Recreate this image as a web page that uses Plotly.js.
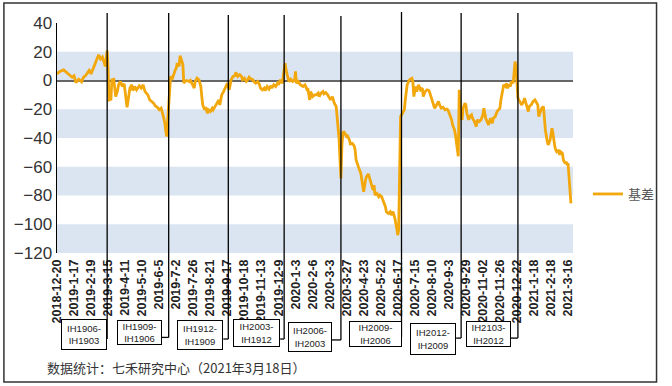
<!DOCTYPE html>
<html><head><meta charset="utf-8">
<script src="https://cdn.plot.ly/plotly-3.0.1.min.js"></script>
<style>html,body{margin:0;padding:0;background:#fff}#chart{width:672px;height:386px}</style>
</head><body><div id="chart"></div>
<script>
// trading-day index since 2018-12-20
const tradingDay = [0,3,7,10,13,16,18,20,23,26,28,30,32,34,36,38,40,42,44,46,48,51,52,53,54,55,57,58,60,61,62,64,65,67,69,71,72,74,75,77,79,80,82,84,87,89,91,93,96,98,100,102,104,106,108,110,112,114,115,116,117,118,119,120,122,123,125,126,127,129,130,132,133,134,135,137,140,141,143,145,146,148,150,152,153,154,156,157,159,160,162,164,165,167,169,171,172,174,176,178,180,182,184,186,188,189,191,193,195,196,198,200,201,203,205,207,208,210,212,214,215,217,219,220,222,224,226,227,229,231,233,234,236,238,241,242,244,245,247,249,251,252,253,255,257,259,260,262,264,265,267,268,270,272,274,276,277,279,281,282,284,286,288,289,291,293,295,296,297,298,299,300,301,302,303,305,306,307,309,310,312,314,315,316,318,319,321,322,323,324,326,327,329,331,332,334,335,336,338,340,341,343,345,347,348,350,352,353,355,357,359,360,361,362,363,365,367,368,369,370,372,373,375,376,377,379,380,382,384,386,387,389,391,393,394,396,398,399,401,403,405,406,408,410,412,413,415,417,418,420,421,422,423,424,425,426,428,429,431,432,433,435,436,438,439,441,443,444,446,448,450,451,453,455,456,458,460,461,463,465,467,468,469,471,472,474,475,476,478,479,480,482,483,484,485,486,487,488,489,491,493,494,496,498,499,501,503,505,506,508,509,511,512,514,515,516,518,519,521,522,523,524,525,526,527,528,530,531,532,534,535,537,538,539,540,541,542,543];
const basis = [4.6,6.3,7.4,5.6,3.9,2.3,3.3,-1.4,0.9,-0.9,2.3,3.3,5.1,7.0,4.6,7.9,10.9,15.6,17.9,14.9,16.3,9.8,15.6,20.9,7.4,-13.5,-13.0,0.5,0.9,-4.2,-11.2,-7.0,-3.0,-0.7,-4.2,-2.3,-7.7,-18.6,-14.6,-5.3,-3.0,-7.0,-4.2,-6.5,-3.7,-5.3,-3.0,-7.7,-10.0,-13.5,-14.6,-15.8,-17.7,-18.6,-20.4,-19.3,-23.9,-29.7,-35.5,-39.0,-27.4,-18.1,-4.2,2.8,1.6,4.0,7.4,8.6,12.1,9.8,17.2,13.2,10.9,-1.9,-0.7,0,-0.7,0,-3.0,-5.3,-0.7,1.6,0.5,-4.2,-11.2,-17.0,-20.4,-18.6,-22.8,-20.4,-21.6,-19.3,-20.4,-18.1,-15.8,-13.5,-17.0,-10.0,-7.7,-4.2,-1.9,-6.5,0.5,2.8,3.3,5.6,2.8,4.0,2.8,0.5,1.6,-0.7,0,2.3,0.9,0.5,-0.7,-1.9,-0.7,-3.0,-5.3,-6.5,-5.3,-7.0,-4.2,-6.0,-3.7,-5.3,-3.0,-4.2,-1.9,-3.0,0.5,-1.9,12.1,7.4,0.5,-0.7,0.9,-0.7,0,6.3,-1.9,-0.7,-3.0,-3.7,-4.2,-3.0,-6.0,-5.3,-13.5,-7.7,-11.2,-10.0,-10.0,-8.8,-11.2,-8.8,-7.7,-9.3,-8.4,-10.0,-12.3,-13.5,-11.2,-15.8,-18.1,-25.1,-34.4,-40.2,-55.3,-68.1,-46.0,-36.7,-35.5,-37.9,-39.0,-38.6,-41.3,-44.1,-43.7,-45.5,-48.3,-55.3,-59.9,-61.1,-64.6,-69.2,-75.0,-77.4,-69.2,-66.9,-65.0,-69.2,-71.5,-76.2,-72.7,-79.7,-78.5,-80.8,-79.7,-80.8,-84.3,-87.8,-91.3,-92.5,-91.3,-93.6,-91.3,-95.9,-102.9,-107.6,-104.1,-69.2,-25.1,-22.8,-20.4,-13.5,-6.5,-3.0,0,0.9,1.6,-0.7,-11.2,-4.2,-7.7,-3.0,-6.5,-5.3,-11.2,-7.7,-6.5,-7.0,-8.8,-13.5,-17.0,-19.3,-17.0,-14.6,-18.1,-19.3,-18.6,-20.4,-19.9,-20.4,-23.9,-27.4,-30.9,-34.4,-37.9,-43.4,-51.5,-52.7,-6.5,-22.8,-27.4,-19.3,-15.8,-17.0,-22.8,-27.4,-25.1,-23.9,-26.3,-28.6,-32.1,-27.4,-28.6,-27.4,-23.9,-19.3,-26.3,-29.7,-30.9,-26.3,-29.7,-26.3,-25.1,-21.6,-20.4,-19.3,-13.5,-4.2,-3.0,-4.2,-1.9,-5.3,-3.0,-4.2,-0.7,-1.9,5.1,13.2,9.8,-4.2,-12.3,-13.5,-14.6,-17.0,-14.6,-12.3,-17.0,-21.6,-18.1,-17.0,-14.6,-13.5,-14.6,-17.0,-25.1,-20.4,-19.3,-18.1,-25.1,-34.4,-42.5,-44.8,-41.3,-36.7,-33.2,-36.7,-43.7,-46.0,-48.3,-49.5,-48.3,-51.8,-49.5,-50.6,-55.3,-57.6,-56.4,-58.8,-57.6,-64.6,-76.2,-85.5];
const tickLabels = ['2018-12-20','2019-1-17','2019-2-19','2019-3-15','2019-4-11','2019-5-10','2019-6-5','2019-7-2','2019-7-26','2019-8-21','2019-9-17','2019-10-18','2019-11-13','2019-12-9','2020-1-3','2020-2-6','2020-3-3','2020-3-27','2020-4-23','2020-5-22','2020-6-17','2020-7-15','2020-8-10','2020-9-3','2020-9-29','2020-11-02','2020-11-26','2020-12-22','2021-1-18','2021-2-18','2021-3-16'];
const rollDays = [53,118,181,240,300,364,427,487];
const rollLabels = ['IH1906-<br>IH1903','IH1909-<br>IH1906','IH1912-<br>IH1909','IH2003-<br>IH1912','IH2006-<br>IH2003','IH2009-<br>IH2006','IH2012-<br>IH2009','IH2103-<br>IH2012'];
const yTicks = [40,20,0,-20,-40,-60,-80,-100,-120];

const TICK_STEP = 18;
const tickVals = tickLabels.map((_, i) => i * TICK_STEP);

// layout geometry of the label boxes (pixels / paper units)
const boxGeom = [
  {gap:0, yc:-0.354, w:46, h:31, yl:-0.374, top:1.043},
  {gap:7, yc:-0.346, w:45, h:25, yl:-0.367, top:1.043},
  {gap:5, yc:-0.357, w:46, h:30, yl:-0.374, top:1.035},
  {gap:4, yc:-0.348, w:47, h:28, yl:-0.374, top:1.035},
  {gap:9, yc:-0.365, w:44, h:30, yl:-0.378, top:1.030},
  {gap:0, yc:-0.352, w:53, h:26, yl:-0.365, top:1.048},
  {gap:5, yc:-0.374, w:46, h:32, yl:-0.370, top:1.043},
  {gap:7, yc:-0.352, w:45, h:26, yl:-0.370, top:1.043}
];

const shapes = [];
const bandColor = '#DBE5F1';
[[0,20],[-40,-20],[-80,-60],[-120,-100]].forEach(b => shapes.push({
  type:'rect', xref:'paper', x0:0, x1:1, yref:'y', y0:b[0], y1:b[1],
  fillcolor:bandColor, line:{width:0}, layer:'below'
}));
rollDays.forEach((d, i) => {
  const g = boxGeom[i];
  shapes.push({type:'line', xref:'x', x0:d, x1:d, yref:'paper', y0:g.yl, y1:g.top,
    line:{color:'#000', width:1.3}, layer:'above'});
  if (g.gap > 0) shapes.push({type:'line', xref:'x', xsizemode:'pixel', xanchor:d, x0:-g.gap, x1:0,
    yref:'paper', y0:g.yl, y1:g.yl, line:{color:'#000', width:1.3}, layer:'above'});
});
// outer frame
shapes.push({type:'rect', xref:'paper', yref:'paper', x0:-0.1029, x1:1.1619, y0:-0.5609, y1:1.087,
  line:{color:'#333', width:1.5}, fillcolor:'rgba(0,0,0,0)', layer:'above'});

const annotations = rollDays.map((d, i) => {
  const g = boxGeom[i];
  return {xref:'x', x:d, xanchor:'right', xshift:-g.gap, yref:'paper', y:g.yc, yanchor:'middle',
    text:rollLabels[i], showarrow:false, width:g.w-2, height:g.h-2, borderpad:0,
    bordercolor:'#000', borderwidth:1, bgcolor:'#fff', align:'center',
    font:{family:'Liberation Sans, Arial, sans-serif', size:9.5, color:'#222'}};
});
annotations.push({xref:'paper', yref:'paper', x:-0.0229, y:-0.4957, xanchor:'left', yanchor:'middle',
  showarrow:false, text:'数据统计：七禾研究中心（2021年3月18日）',
  font:{family:'Noto Sans CJK SC, sans-serif', size:13, color:'#333'}});

const trace = {x:tradingDay, y:basis, type:'scatter', mode:'lines', name:'基差',
  line:{color:'#F2A80C', width:2.8}};

const layout = {
  width:672, height:386,
  margin:{l:57, r:90, t:23, b:133},
  paper_bgcolor:'#fff', plot_bgcolor:'#fff',
  showlegend:true,
  legend:{x:1.029, y:0.2565, xanchor:'left', yanchor:'middle', bgcolor:'rgba(0,0,0,0)',
    font:{family:'Noto Sans CJK SC, sans-serif', size:13, color:'#555'}},
  xaxis:{range:[0,545.2], tickmode:'array', tickvals:tickVals, ticktext:tickLabels, tickangle:-90,
    showgrid:false, zeroline:false, showline:false, ticks:'', ticklabelstandoff:3,
    tickfont:{family:'Liberation Sans, Arial, sans-serif', size:12.5, color:'#222', weight:'bold'}},
  yaxis:{range:[-120,40], tickmode:'array', tickvals:yTicks, showgrid:false,
    zeroline:true, zerolinecolor:'#666', zerolinewidth:2,
    showline:true, linecolor:'#000', linewidth:1.5, ticks:'',
    tickfont:{family:'Liberation Sans, Arial, sans-serif', size:17, color:'#333'}},
  shapes:shapes, annotations:annotations
};
Plotly.newPlot('chart', [trace], layout, {displayModeBar:false, staticPlot:true});
</script></body></html>
